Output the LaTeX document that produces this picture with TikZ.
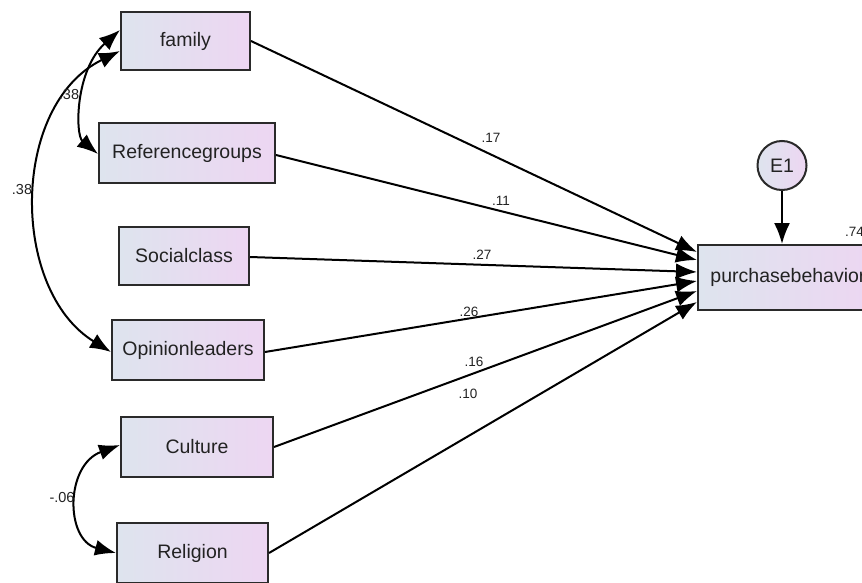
\documentclass[tikz,border=0pt]{standalone}
\usepackage{fontspec}
\setmainfont{Liberation Sans}
\usetikzlibrary{arrows.meta}
\definecolor{boxline}{HTML}{2A2A2A}
\definecolor{lefts}{HTML}{DEE4EE}
\definecolor{rights}{HTML}{EDD6F2}
\definecolor{txt}{HTML}{222222}
\tikzset{
  varbox/.style={draw=boxline, line width=2pt, left color=lefts, right color=rights,
    minimum height=58pt, inner sep=0pt, text=txt, font=\fontsize{19.5}{22}\selectfont},
  errcirc/.style={circle, draw=boxline, line width=2pt, left color=lefts, right color=rights,
    minimum size=49pt, inner sep=0pt, text=txt, font=\fontsize{19.5}{22}\selectfont},
  arr/.style={line width=2pt, draw=black, -{Latex[length=21pt,width=16pt]}},
  cov/.style={line width=2pt, draw=black, {Latex[length=21pt,width=16pt]}-{Latex[length=21pt,width=16pt]}},
  lbl/.style={font=\fontsize{13.5}{15}\selectfont, text=txt, inner sep=0pt}
}
\begin{document}
\begin{tikzpicture}[x=1pt,y=-1pt]
\useasboundingbox (0,0) rectangle (862,583);
\fill[white] (0,0) rectangle (862,583);

\node[varbox, minimum width=129pt] (fam) at (185.5,41) {family};
\node[varbox, minimum width=176pt, minimum height=60pt] (ref) at (187,153) {Referencegroups};
\node[varbox, minimum width=130pt] (soc) at (184,256) {Socialclass};
\node[varbox, minimum width=152pt, minimum height=60pt] (opi) at (188,350) {Opinionleaders};
\node[varbox, minimum width=152pt, minimum height=60pt] (cul) at (197,447) {Culture};
\node[varbox, minimum width=151pt, minimum height=60pt] (rel) at (192.5,553) {Religion};
\node[varbox, minimum width=180pt, minimum height=65pt, anchor=west] (pur) at (697,277.5) {purchasebehavior};
\node[errcirc] (e1) at (782,165.5) {E1};

\coordinate (t1) at (697,252);
\coordinate (t2) at (697,260);
\coordinate (t3) at (697,272);
\coordinate (t4) at (697,281);
\coordinate (t5) at (697,291);
\coordinate (t6) at (697,302);

\draw[arr] (fam.east) -- (t1);
\draw[arr] ([yshift=-2pt]ref.east) -- (t2);
\draw[arr] ([yshift=-1pt]soc.east) -- (t3);
\draw[arr] ([yshift=-2pt]opi.east) -- (t4);
\draw[arr] (cul.east) -- (t5);
\draw[arr] (rel.east) -- (t6);
\draw[arr] (e1.south) -- (e1.south |- pur.north);

\node[lbl] (l17) at (491,138) {.17};
\node[lbl] (l11) at (501,201) {.11};
\node[lbl] (l27) at (482,255) {.27};
\node[lbl] (l26) at (469,312) {.26};
\node[lbl] (l16) at (474,362) {.16};
\node[lbl] (l10) at (468,394) {.10};
\node[lbl, anchor=west] (l74) at (845,232) {.74};

\draw[cov] ([yshift=-10pt]fam.west) .. controls (10,105) and (10,290) .. ([yshift=-2pt]opi.west);
\draw[cov] ([yshift=11pt]fam.west) .. controls (75,70) and (75,135) .. ([yshift=-1pt]ref.west);
\draw[cov] ([yshift=2pt]cul.west) .. controls (65,465) and (65,540) .. (rel.west);

\node[lbl, font=\fontsize{14.5}{16}\selectfont] (c1) at (22,190) {.38};
\node[lbl, font=\fontsize{14.5}{16}\selectfont] (c2) at (69,95) {.38};
\node[lbl, font=\fontsize{14.5}{16}\selectfont] (c3) at (62,498) {-.06};
\end{tikzpicture}
\end{document}
